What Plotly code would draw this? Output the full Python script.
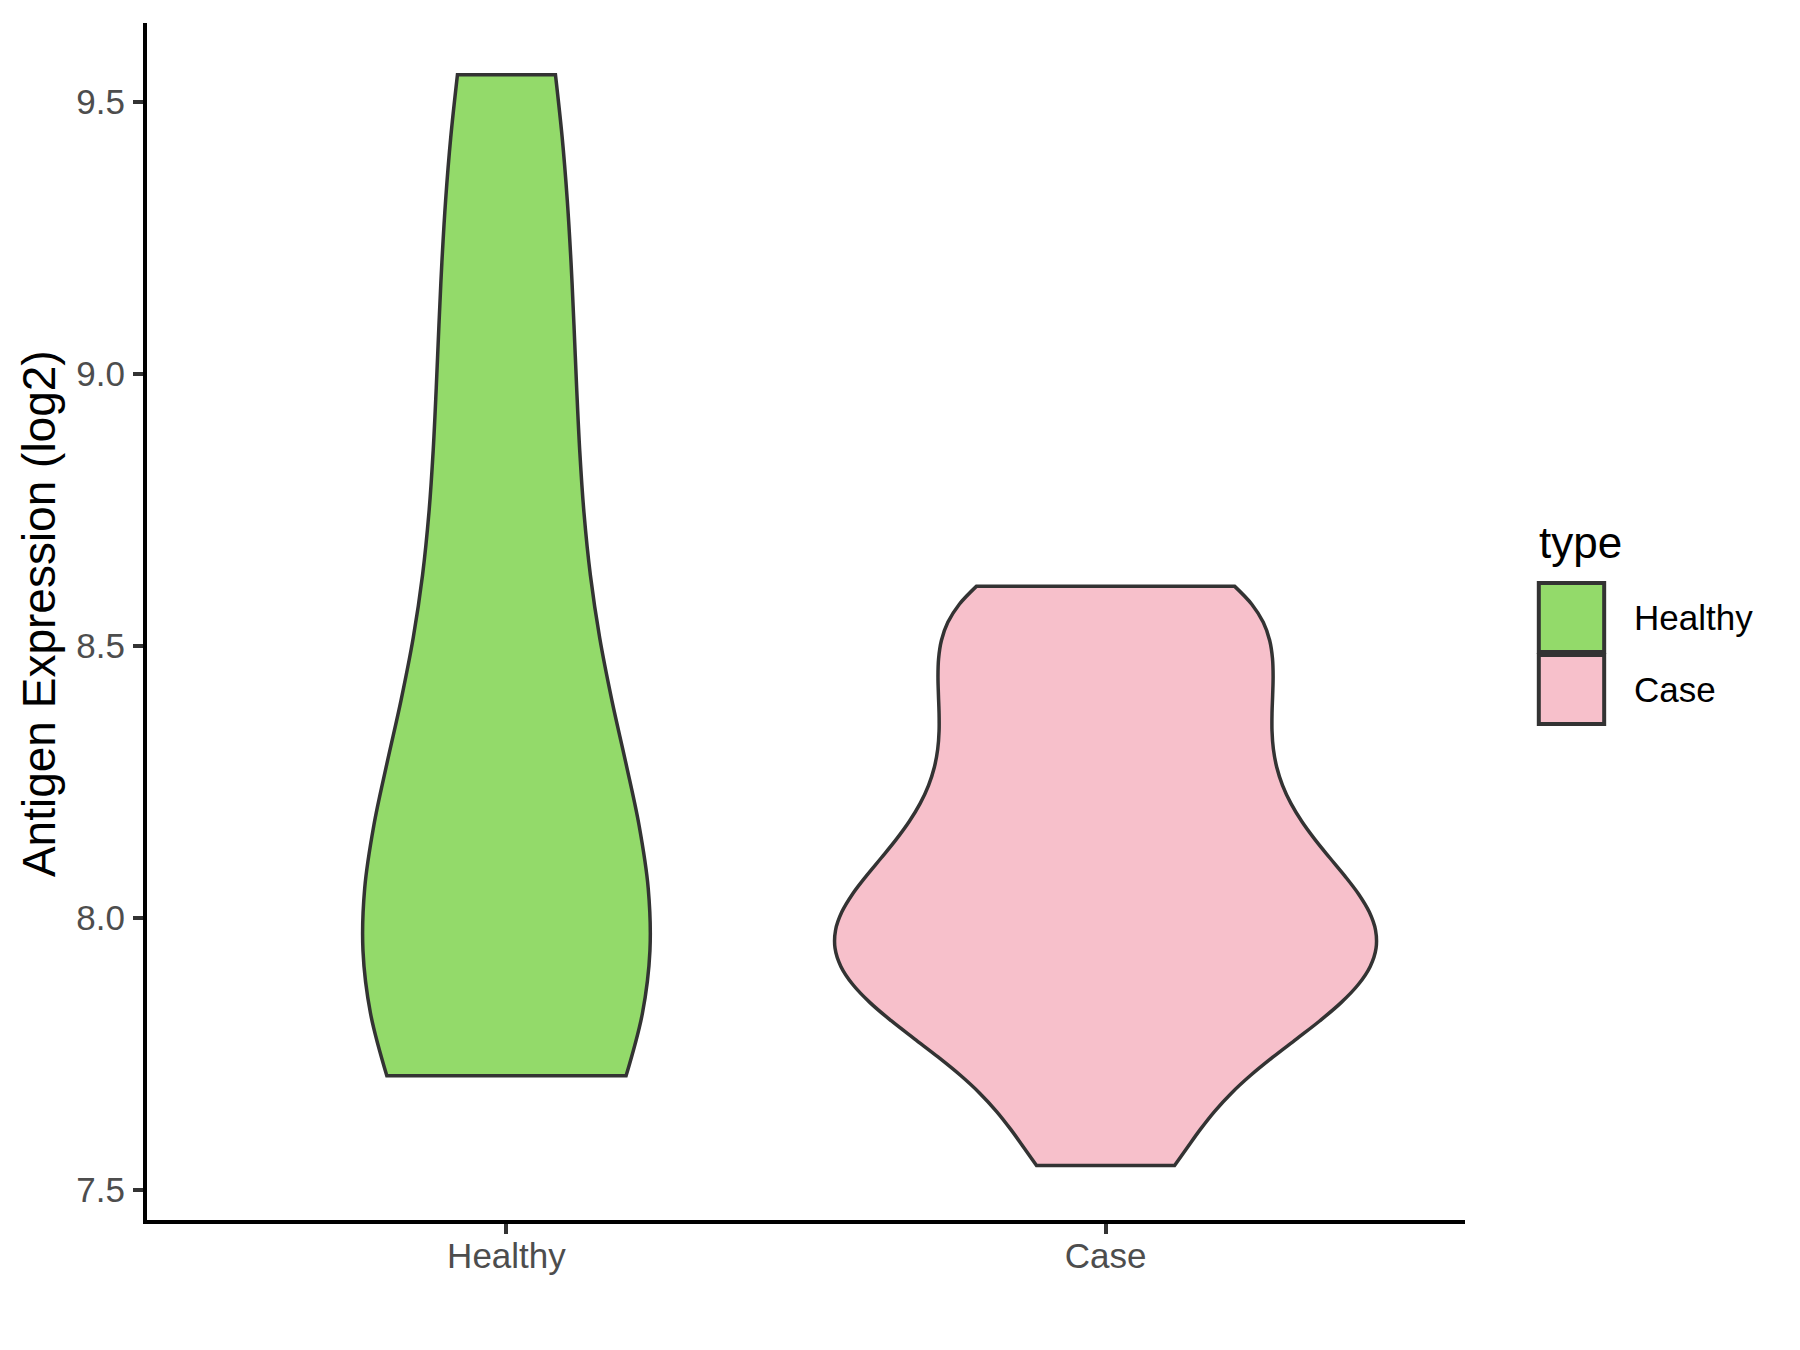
import plotly.graph_objects as go

# sample values per group (log2 antigen expression)
healthy_vals = [7.71, 7.8, 7.95, 8.05, 8.3, 8.7, 9.1, 9.55]
case_vals = [
    7.545, 7.67, 7.76, 7.81, 7.855, 7.895, 7.93, 7.965, 8.00, 8.04,
    8.08, 8.13, 8.19, 8.25, 8.32, 8.39, 8.45, 8.51, 8.60, 8.61,
]

groups = ["Healthy", "Case"]
fills = {"Healthy": "#93DA6A", "Case": "#F7C0CB"}
bandwidths = {"Healthy": 0.35, "Case": 0.1}
widths = {"Healthy": 0.479, "Case": 0.903}
values = {"Healthy": healthy_vals, "Case": case_vals}

font = "Liberation Sans, Arial, sans-serif"

fig = go.Figure()
for g in groups:
    fig.add_trace(
        go.Violin(
            x=[g] * len(values[g]),
            y=values[g],
            name=g,
            fillcolor=fills[g],
            line={"color": "#333333", "width": 3.5},
            opacity=1,
            bandwidth=bandwidths[g],
            width=widths[g],
            spanmode="hard",
            scalemode="width",
            points=False,
            box_visible=False,
            meanline_visible=False,
            showlegend=False,
            hoverinfo="skip",
        )
    )

# page body adds 8px, so margins are offset to keep the panel in place
fig.update_layout(
    width=1800,
    height=1350,
    margin={"l": 139, "r": 343, "t": 15, "b": 138},
    plot_bgcolor="white",
    paper_bgcolor="white",
    violinmode="overlay",
    font={"family": font},
    showlegend=False,
)

axis_common = dict(
    showline=True,
    linecolor="black",
    linewidth=4,
    ticks="outside",
    ticklen=10,
    tickwidth=3.5,
    tickcolor="#333333",
    tickfont={"size": 35, "color": "#4D4D4D", "family": font},
    showgrid=False,
    zeroline=False,
)
fig.update_xaxes(
    type="category",
    categoryorder="array",
    categoryarray=groups,
    range=[-0.6, 1.6],
    ticklabelstandoff=-8,
    **axis_common,
)
fig.update_yaxes(
    range=[7.445, 9.645],
    tickvals=[7.5, 8.0, 8.5, 9.0, 9.5],
    ticktext=["7.5", "8.0", "8.5", "9.0", "9.5"],
    ticklabelstandoff=1,
    **axis_common,
)

# y-axis title
fig.add_annotation(
    text="Antigen Expression (log2)",
    x=-0.0815, y=0.5067, xref="paper", yref="paper",
    xanchor="center", yanchor="middle",
    textangle=-90, showarrow=False,
    font={"size": 46, "color": "black", "family": font},
)

# legend drawn by hand to match ggplot key boxes
fig.add_annotation(
    text="type", x=1.0546, y=0.5664, xref="paper", yref="paper",
    xanchor="left", yanchor="middle", showarrow=False,
    font={"size": 44, "color": "black", "family": font},
)
key_rows = [("Healthy", 0.5322, 0.4745, 0.503), ("Case", 0.4720, 0.4144, 0.4428)]
for g, y_top, y_bot, y_txt in key_rows:
    fig.add_shape(
        type="rect", xref="paper", yref="paper",
        x0=1.0560, x1=1.1056, y0=y_bot, y1=y_top,
        fillcolor=fills[g], line={"color": "#333333", "width": 4},
    )
    fig.add_annotation(
        text=g, x=1.1267, y=y_txt, xref="paper", yref="paper",
        xanchor="left", yanchor="middle", showarrow=False,
        font={"size": 35, "color": "black", "family": font},
    )

fig.write_html("out.html")
